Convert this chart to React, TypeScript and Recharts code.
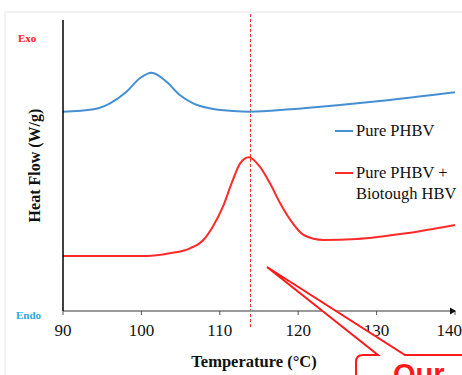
import React from 'react';
import { LineChart, Line, XAxis, YAxis, ReferenceLine, Legend } from 'recharts';

// Temperature (°C) and heat flow (arbitrary units)
const blueT = [90, 93.9, 96, 98.1, 99.8, 101.3, 103.2, 104.9, 106.6, 108.7, 111.7, 113.8, 119, 125.3, 131.7, 140];
const blueHF = [199.3, 201.7, 207.7, 219.3, 232.7, 238.3, 229.3, 216, 207.7, 202.7, 200, 199.3, 201.7, 206, 211, 218.7];
const redT = [90, 100.7, 103.6, 106.2, 107.9, 109.1, 110.4, 111.5, 112.6, 113.7, 115.1, 116.4, 117.7, 119, 120.7, 123.2, 127.5, 133.8, 140];
const redHF = [55, 55, 57.7, 62.7, 71, 84.3, 104.3, 127.7, 147.7, 153.7, 144.3, 127.7, 107.7, 91, 76, 71, 72, 77.7, 86];
const xTicks = [90, 100, 110, 120, 130, 140];
const peakT = 113.8;
const seriesNames = ['Pure PHBV', 'Pure PHBV + Biotough HBV'];

const blueData = blueT.map((t, i) => ({ t, hf: blueHF[i] }));
const redData = redT.map((t, i) => ({ t, hf: redHF[i] }));

const SERIF = '"Liberation Serif", "Times New Roman", serif';
const BLUE = '#4590d2';
const RED = '#ff2b2b';
const DASH_RED = '#ee3035';

const LegendContent = (props: any) => {
  const payload = props.payload || [];
  return (
    <div style={{ fontFamily: SERIF, fontSize: 16.5, color: '#111', lineHeight: '21px' }}>
      {payload.map((p: any, i: number) => (
        <div key={i} style={{ display: 'flex', alignItems: 'flex-start', marginBottom: i === 0 ? 21 : 0 }}>
          <div style={{ width: 18, height: 2, background: p.color, marginTop: 10, marginRight: 3, flex: 'none' }} />
          <div style={{ width: 108 }}>{p.value}</div>
        </div>
      ))}
    </div>
  );
};

const DashedShape = (p: any) => {
  const x = Math.round(Number(p.x1)) + 0.5;
  return (
    <line
      x1={x}
      y1={p.y1}
      x2={x}
      y2={p.y2}
      stroke={DASH_RED}
      strokeWidth={1}
      strokeDasharray="3 2"
      shapeRendering="crispEdges"
    />
  );
};

export default function App() {
  return (
    <div style={{ position: 'absolute', left: 0, top: 0, width: 462, height: 375, background: '#fff', overflow: 'hidden' }}>
      <svg width={462} height={375} style={{ position: 'absolute', left: 0, top: 0 }}>
        <line x1={5} y1={12} x2={462} y2={12} stroke="#e6e6e6" strokeWidth={1} />
        <line x1={5} y1={12} x2={5} y2={375} stroke="#e6e6e6" strokeWidth={1} />
      </svg>
      <div style={{ position: 'absolute', left: 0, top: 0 }}>
        <LineChart width={462} height={375} margin={{ top: 20, right: 7, bottom: 0, left: 0 }}>
          <XAxis
            type="number"
            dataKey="t"
            domain={[90, 140]}
            ticks={xTicks}
            allowDataOverflow
            height={64}
            axisLine={{ stroke: '#999', strokeWidth: 2 }}
            tickLine={{ stroke: '#555', strokeWidth: 1 }}
            tickSize={4}
            tickMargin={9}
            tick={{ fill: '#111', fontSize: 17, fontFamily: SERIF }}
            label={{
              value: 'Temperature (°C)',
              position: 'insideBottom',
              offset: 8,
              dx: -5,
              style: { fill: '#111', fontSize: 16.5, fontWeight: 'bold', fontFamily: SERIF },
            }}
          />
          <YAxis
            type="number"
            domain={[0, 291]}
            width={63}
            tick={false}
            tickLine={false}
            axisLine={{ stroke: '#000', strokeWidth: 1.5 }}
            label={{
              value: 'Heat Flow (W/g)',
              angle: -90,
              position: 'center',
              dx: 3,
              style: { fill: '#111', fontSize: 16, fontWeight: 'bold', fontFamily: SERIF, textAnchor: 'middle' },
            }}
          />
          <ReferenceLine
            segment={[{ x: peakT, y: -16 }, { x: peakT, y: 299 }]}
            ifOverflow="visible"
            stroke={DASH_RED}
            strokeWidth={1}
            strokeDasharray="3 2"
            shape={DashedShape}
          />
          <Line
            data={blueData}
            dataKey="hf"
            name={seriesNames[0]}
            type="monotone"
            stroke={BLUE}
            strokeWidth={2}
            dot={false}
            isAnimationActive={false}
          />
          <Line
            data={redData}
            dataKey="hf"
            name={seriesNames[1]}
            type="monotone"
            stroke={RED}
            strokeWidth={2}
            dot={false}
            isAnimationActive={false}
          />
          <Legend
            layout="vertical"
            align="center"
            verticalAlign="middle"
            content={<LegendContent />}
            wrapperStyle={{ position: 'absolute', left: 335, top: 120, width: 130 }}
          />
        </LineChart>
      </div>
      <svg width={462} height={375} style={{ position: 'absolute', left: 0, top: 0, pointerEvents: 'none' }}>
        <text x={18} y={41.5} fill="#ff2020" fontSize={11} fontWeight="bold" fontFamily={SERIF}>Exo</text>
        <text x={16} y={318.5} fill="#29a9e6" fontSize={11} fontWeight="bold" fontFamily={SERIF}>Endo</text>
        <path d="M 450 307.5 L 456 311 L 450 314.5 Z" fill="#111" />
        <path
          d="M 356 380 L 356 362 Q 356 355 363 355 L 378 355 L 267 267 L 405 355 L 470 355"
          fill="#fff"
          stroke="#ff1a1a"
          strokeWidth={2}
          strokeLinejoin="miter"
        />
        <text x={393} y={384} fill="#ff1a1a" fontSize={29} fontWeight="bold" fontFamily='"Liberation Sans", Arial, sans-serif'>Our</text>
      </svg>
    </div>
  );
}
